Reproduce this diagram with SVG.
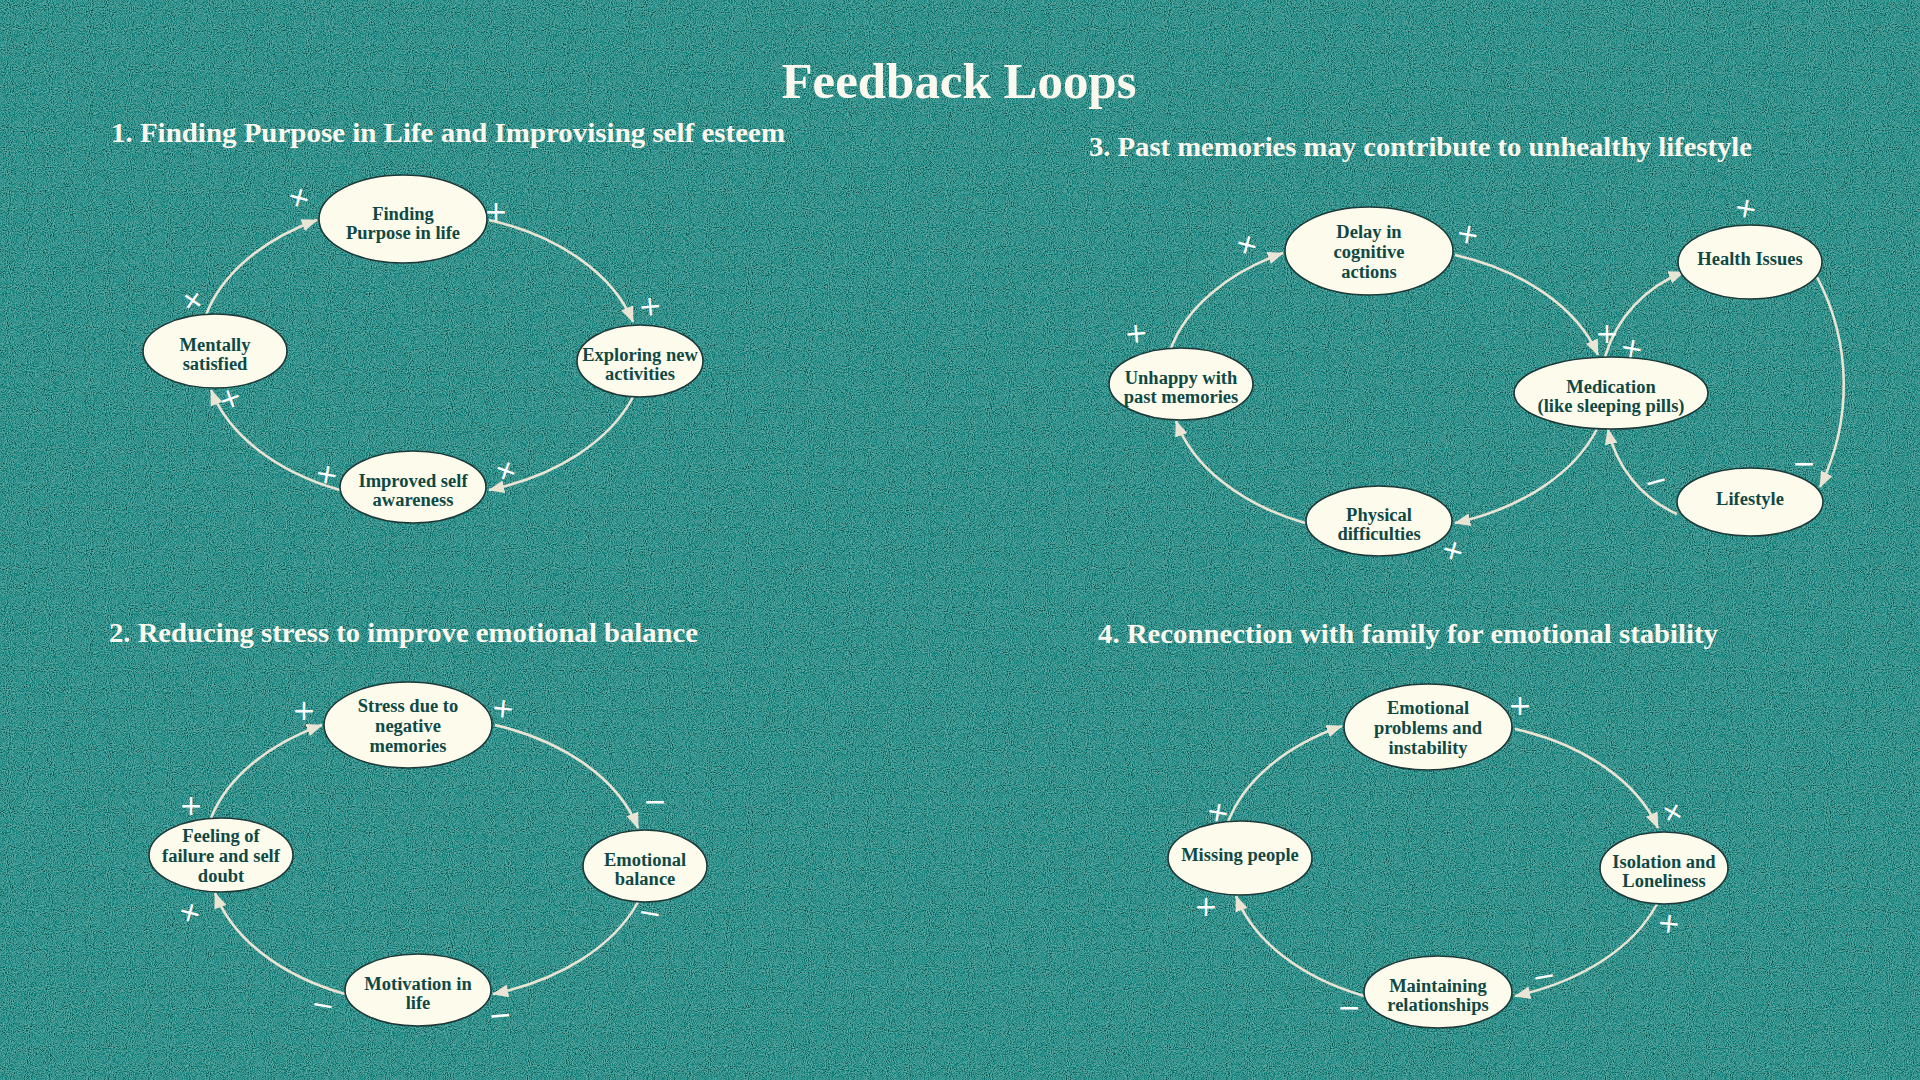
<svg xmlns="http://www.w3.org/2000/svg" width="1920" height="1080" viewBox="0 0 1920 1080">
<defs>
<filter id="grain" x="0" y="0" width="1920" height="1080" filterUnits="userSpaceOnUse">
<feTurbulence type="fractalNoise" baseFrequency="0.95" numOctaves="2" seed="4" stitchTiles="stitch"/>
<feColorMatrix type="matrix" values="1.8 0 0 0 -0.8  1.8 0 0 0 -0.45  1.8 0 0 0 -0.48  0 0 0 0 0.4"/>
</filter>
<marker id="arr" viewBox="0 0 10 8" markerWidth="16" markerHeight="12.8" refX="9.5" refY="4" orient="auto" markerUnits="userSpaceOnUse">
<path d="M0,0 L10,4 L0,8 Z" fill="#e9e4d4"/>
</marker>
<style>
.node ellipse{fill:#fdfbeb;stroke:#1c3838;stroke-width:1.6}
.node text{font-family:"Liberation Serif","Times New Roman",serif;font-weight:bold;font-size:18.5px;fill:#0f4946;text-anchor:middle}
.conn path{fill:none;stroke:#e9e4d4;stroke-width:2.6;marker-end:url(#arr)}
.head{font-family:"Liberation Serif","Times New Roman",serif;font-weight:bold;fill:#fbf8ee}
.mk{font-family:"DejaVu Sans",sans-serif;font-size:28px;fill:#ffffff;text-anchor:middle;dominant-baseline:central}
</style>
</defs>
<rect x="0" y="0" width="1920" height="1080" fill="#207c77"/>
<rect x="0" y="0" width="1920" height="1080" filter="url(#grain)"/>

<text class="head" x="959" y="98" font-size="50" text-anchor="middle" textLength="355" lengthAdjust="spacingAndGlyphs">Feedback Loops</text>
<text class="head" x="111" y="142" font-size="27" textLength="674" lengthAdjust="spacingAndGlyphs">1. Finding Purpose in Life and Improvising self esteem</text>
<text class="head" x="1089" y="156" font-size="27" textLength="663" lengthAdjust="spacingAndGlyphs">3. Past memories may contribute to unhealthy lifestyle</text>
<text class="head" x="109" y="642" font-size="27" textLength="589" lengthAdjust="spacingAndGlyphs">2. Reducing stress to improve emotional balance</text>
<text class="head" x="1098" y="643" font-size="27" textLength="620" lengthAdjust="spacingAndGlyphs">4. Reconnection with family for emotional stability</text>

<g id="connectors" class="conn">
<path d="M206,315 A225,150 0 0,1 317,220"/>
<path d="M489,220 A225,150 0 0,1 633,322"/>
<path d="M633,397 A225,150 0 0,1 489,490"/>
<path d="M340,490 A225,150 0 0,1 211,390"/>
<path d="M211,818 A225,150 0 0,1 322,725"/>
<path d="M495,725 A225,150 0 0,1 638,828"/>
<path d="M638,902 A225,150 0 0,1 493,994"/>
<path d="M345,994 A225,150 0 0,1 215,893"/>
<path d="M1228,822 A225,150 0 0,1 1342,726"/>
<path d="M1515,729 A225,150 0 0,1 1658,828"/>
<path d="M1657,904 A225,150 0 0,1 1515,996"/>
<path d="M1364,996 A225,150 0 0,1 1236,896"/>
<path d="M1171,348 A225,150 0 0,1 1283,253"/>
<path d="M1455,255 A225,150 0 0,1 1598,355"/>
<path d="M1597,429 A225,150 0 0,1 1455,523"/>
<path d="M1305,523 A225,150 0 0,1 1176,421"/>
<path d="M1605,357 A130,130 0 0,1 1684,272"/>
<path d="M1817,277 A231,231 0 0,1 1820,487"/>
<path d="M1677,514 A120,120 0 0,1 1608,429"/>
</g>

<g id="n-finding" class="node"><ellipse cx="403" cy="219" rx="84" ry="44"/><text x="403" y="220">Finding</text><text x="403" y="239">Purpose in life</text></g>
<g id="n-mentally" class="node"><ellipse cx="215" cy="351" rx="72" ry="37"/><text x="215" y="351">Mentally</text><text x="215" y="370">satisfied</text></g>
<g id="n-exploring" class="node"><ellipse cx="640" cy="361" rx="63" ry="36"/><text x="640" y="361">Exploring new</text><text x="640" y="380">activities</text></g>
<g id="n-improved" class="node"><ellipse cx="413" cy="487" rx="73" ry="36"/><text x="413" y="487">Improved self</text><text x="413" y="506">awareness</text></g>

<g id="n-stress" class="node"><ellipse cx="408" cy="725" rx="84" ry="43"/><text x="408" y="712">Stress due to</text><text x="408" y="732">negative</text><text x="408" y="752">memories</text></g>
<g id="n-feeling" class="node"><ellipse cx="221" cy="855" rx="72" ry="37"/><text x="221" y="842">Feeling of</text><text x="221" y="862">failure and self</text><text x="221" y="882">doubt</text></g>
<g id="n-emotional" class="node"><ellipse cx="645" cy="866" rx="62" ry="36"/><text x="645" y="866">Emotional</text><text x="645" y="885">balance</text></g>
<g id="n-motivation" class="node"><ellipse cx="418" cy="990" rx="73" ry="36"/><text x="418" y="990">Motivation in</text><text x="418" y="1009">life</text></g>

<g id="n-delay" class="node"><ellipse cx="1369" cy="251" rx="84" ry="44"/><text x="1369" y="238">Delay in</text><text x="1369" y="258">cognitive</text><text x="1369" y="278">actions</text></g>
<g id="n-health" class="node"><ellipse cx="1750" cy="262" rx="72" ry="37"/><text x="1750" y="265">Health Issues</text></g>
<g id="n-unhappy" class="node"><ellipse cx="1181" cy="384" rx="72" ry="36"/><text x="1181" y="384">Unhappy with</text><text x="1181" y="403">past memories</text></g>
<g id="n-medication" class="node"><ellipse cx="1611" cy="393" rx="97" ry="36"/><text x="1611" y="393">Medication</text><text x="1611" y="412">(like sleeping pills)</text></g>
<g id="n-physical" class="node"><ellipse cx="1379" cy="521" rx="73" ry="35"/><text x="1379" y="521">Physical</text><text x="1379" y="540">difficulties</text></g>
<g id="n-lifestyle" class="node"><ellipse cx="1750" cy="502" rx="73" ry="34"/><text x="1750" y="505">Lifestyle</text></g>

<g id="n-emoprob" class="node"><ellipse cx="1428" cy="727" rx="84" ry="43"/><text x="1428" y="714">Emotional</text><text x="1428" y="734">problems and</text><text x="1428" y="754">instability</text></g>
<g id="n-missing" class="node"><ellipse cx="1240" cy="858" rx="72" ry="37"/><text x="1240" y="861">Missing people</text></g>
<g id="n-isolation" class="node"><ellipse cx="1664" cy="868" rx="64" ry="36"/><text x="1664" y="868">Isolation and</text><text x="1664" y="887">Loneliness</text></g>
<g id="n-maintaining" class="node"><ellipse cx="1438" cy="992" rx="74" ry="36"/><text x="1438" y="992">Maintaining</text><text x="1438" y="1011">relationships</text></g>

<g id="polarity">
<text class="mk" transform="translate(299,197) rotate(15)">+</text>
<text class="mk" transform="translate(496,211)" font-size="20">+</text>
<text class="mk" transform="translate(650,306) rotate(-5)">+</text>
<text class="mk" transform="translate(193,300) rotate(35)" font-size="22">+</text>
<text class="mk" transform="translate(230,398) rotate(-20)" font-size="24">+</text>
<text class="mk" transform="translate(506,470) rotate(20)" font-size="24">+</text>
<text class="mk" transform="translate(327,474) rotate(10)" font-size="24">+</text>

<text class="mk" transform="translate(1247,244) rotate(15)" font-size="24">+</text>
<text class="mk" transform="translate(1468,234) rotate(10)">+</text>
<text class="mk" transform="translate(1136,333) rotate(-5)" font-size="24">+</text>
<text class="mk" transform="translate(1607,333)" font-size="24">+</text>
<text class="mk" transform="translate(1632,348) rotate(10)" font-size="24">+</text>
<text class="mk" transform="translate(1746,208) rotate(10)">+</text>
<text class="mk" transform="translate(1804,463)" font-size="20">−</text>
<text class="mk" transform="translate(1656,481) rotate(-15)" font-size="22">−</text>
<text class="mk" transform="translate(1453,550) rotate(15)" font-size="24">+</text>

<text class="mk" transform="translate(304,710)" font-size="24">+</text>
<text class="mk" transform="translate(503,708) rotate(5)">+</text>
<text class="mk" transform="translate(655,801)" font-size="32">−</text>
<text class="mk" transform="translate(191,805)" font-size="24">+</text>
<text class="mk" transform="translate(190,912) rotate(15)">+</text>
<text class="mk" transform="translate(650,913) rotate(10)" font-size="18">−</text>
<text class="mk" transform="translate(323,1005) rotate(10)" font-size="26">−</text>
<text class="mk" transform="translate(500,1015) rotate(-5)" font-size="32">−</text>

<text class="mk" transform="translate(1520,705)" font-size="32">+</text>
<text class="mk" transform="translate(1673,812) rotate(30)" font-size="24">+</text>
<text class="mk" transform="translate(1218,812) rotate(10)" font-size="24">+</text>
<text class="mk" transform="translate(1206,906)">+</text>
<text class="mk" transform="translate(1669,923) rotate(5)" font-size="24">+</text>
<text class="mk" transform="translate(1544,976) rotate(-10)" font-size="22">−</text>
<text class="mk" transform="translate(1349,1007)" font-size="24">−</text>
</g>
</svg>
